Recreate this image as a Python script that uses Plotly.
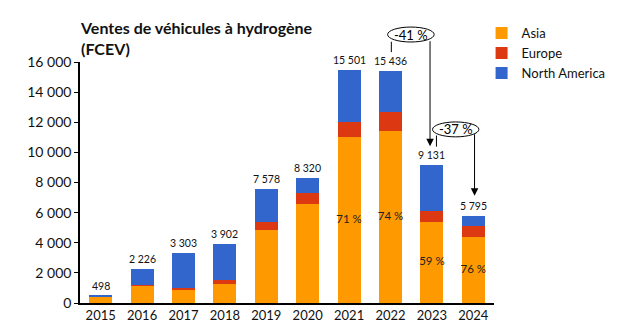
import plotly.graph_objects as go

years = ["2015", "2016", "2017", "2018", "2019", "2020", "2021", "2022", "2023", "2024"]
totals = [498, 2226, 3303, 3902, 7578, 8320, 15501, 15436, 9131, 5795]
asia = [400, 1150, 900, 1280, 4830, 6570, 11006, 11423, 5387, 4404]
europe = [10, 20, 100, 260, 550, 750, 1000, 1240, 750, 730]
north_america = [t - a - e for t, a, e in zip(totals, asia, europe)]
asia_share = ["", "", "", "", "", "", "71 %", "74 %", "59 %", "76 %"]
y_ticks = [0, 2000, 4000, 6000, 8000, 10000, 12000, 14000, 16000]

C_ASIA = "#FF9900"
C_EUROPE = "#DC3912"
C_NA = "#3366CC"
FONT = "Lato"

fig = go.Figure()
fig.add_trace(go.Bar(x=years, y=asia, name="Asia", marker=dict(color=C_ASIA, line=dict(width=0))))
fig.add_trace(go.Bar(x=years, y=europe, name="Europe", marker=dict(color=C_EUROPE, line=dict(width=0))))
fig.add_trace(go.Bar(x=years, y=north_america, name="North America", marker=dict(color=C_NA, line=dict(width=0))))

# share labels centred in the Asia segment
fig.add_trace(go.Scatter(
    x=years, y=[a / 2 for a in asia], mode="text", text=asia_share,
    textfont=dict(family=FONT, size=11.5, color="#222"), showlegend=False, hoverinfo="skip",
))

annotations = []
for i, tot in enumerate(totals):
    annotations.append(dict(
        x=i, y=tot, xref="x", yref="y", text=f"{tot:,}".replace(",", " "),
        showarrow=False, yanchor="bottom", yshift=2,
        font=dict(family=FONT, size=10.5, color="#111"),
    ))

# ---- change callouts ----
def pct_change(a, b):
    return round((b - a) / a * 100)

i22, i23, i24 = years.index("2022"), years.index("2023"), years.index("2024")
ch1 = pct_change(totals[i22], totals[i23])
ch2 = pct_change(totals[i23], totals[i24])

shapes = []
# -41 % (above the plot area -> paper y)
shapes.append(dict(type="circle", xref="x", yref="paper", x0=i22 - 0.07, x1=i22 + 1.055,
                   y0=1.083, y1=1.145, line=dict(color="black", width=1), fillcolor="white",
                   layer="above"))
shapes.append(dict(type="line", xref="x", yref="paper", x0=i22 + 0.02, x1=i22 + 0.02,
                   y0=1.041, y1=1.084, line=dict(color="black", width=1)))
annotations.append(dict(x=i22 + 0.493, y=1.114, xref="x", yref="paper", yanchor="middle",
                        xanchor="center", text=f"{ch1} %",
                        showarrow=False, font=dict(family=FONT, size=13, color="black")))
annotations.append(dict(x=i22 + 0.955, y=10400, xref="x", yref="y", ax=i22 + 0.955, ay=17480,
                        axref="x", ayref="y", text="", showarrow=True, arrowhead=2,
                        arrowsize=1.5, arrowwidth=1, arrowcolor="black", standoff=0))
# -37 %
shapes.append(dict(type="circle", xref="x", yref="y", x0=i23 + 0.015, x1=i23 + 1.135,
                   y0=11030, y1=12020, line=dict(color="black", width=1), fillcolor="white",
                   layer="above"))
shapes.append(dict(type="line", xref="x", yref="y", x0=i23 + 0.11, x1=i23 + 0.11,
                   y0=10380, y1=11120, line=dict(color="black", width=1)))
annotations.append(dict(x=i23 + 0.575, y=11525, xref="x", yref="y", yanchor="middle",
                        xanchor="center", text=f"{ch2} %",
                        showarrow=False, font=dict(family=FONT, size=13, color="black")))
annotations.append(dict(x=i24 + 0.03, y=7120, xref="x", yref="y", ax=i24 + 0.03, ay=11300,
                        axref="x", ayref="y", text="", showarrow=True, arrowhead=2,
                        arrowsize=1.5, arrowwidth=1, arrowcolor="black", standoff=0))

# title
annotations.append(dict(x=0, y=1.0, xref="paper", yref="paper", xanchor="left", yanchor="bottom",
                        yshift=2, xshift=-2, align="left", showarrow=False,
                        text="<b>Ventes de véhicules à hydrogène<br>(FCEV)</b>",
                        font=dict(family=FONT, size=16, color="#111")))

fig.update_layout(
    width=627, height=334,
    margin=dict(l=80, r=133, t=62, b=31),
    barmode="stack", bargap=0.44,
    plot_bgcolor="white", paper_bgcolor="white",
    separators=", ",
    font=dict(family=FONT, size=13, color="#111"),
    showlegend=True,
    legend=dict(x=0.97, xanchor="left", y=1.182, yanchor="top", traceorder="normal",
                font=dict(family=FONT, size=13, color="#111"), bgcolor="rgba(0,0,0,0)",
                itemclick=False),
    annotations=annotations,
    shapes=shapes,
    xaxis=dict(type="category", showline=True, linecolor="black", linewidth=1.5,
               ticks="", showgrid=False, tickfont=dict(family=FONT, size=13),
               range=[-0.5, 9.5]),
    yaxis=dict(range=[0, 16000], tickvals=y_ticks, showline=True, linecolor="black",
               linewidth=1.5, ticks="outside", ticklen=4, tickcolor="black",
               showgrid=False, zeroline=False, tickformat=",d",
               tickfont=dict(family=FONT, size=14)),
)

fig.write_html("out.html")
